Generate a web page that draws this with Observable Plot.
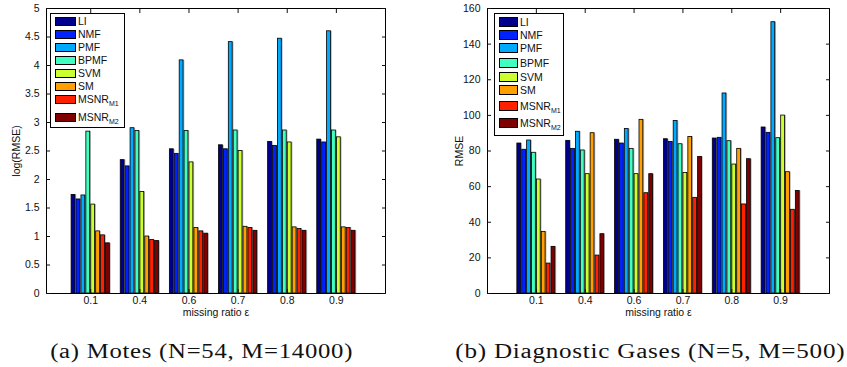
<!DOCTYPE html>
<html>
<head>
<meta charset="utf-8">
<script src="https://cdn.jsdelivr.net/npm/d3@7"></script>
<script src="https://cdn.jsdelivr.net/npm/@observablehq/plot@0.6"></script>
<style>
  html, body { margin: 0; padding: 0; background: #fff; }
  #wrap { position: relative; width: 847px; height: 367px; font-family: "Liberation Sans", Arial, sans-serif; overflow: hidden; }
  .panel { position: absolute; top: 0; }
  .legend { position: absolute; border: 1px solid #000; background: #fff; box-sizing: border-box; font-size: 10.5px; color: #111; }
  .legend .sw { position: absolute; border: 1px solid #000; box-sizing: border-box; }
  .legend .lb { position: absolute; white-space: nowrap; line-height: 12px; }
  .legend sub { font-size: 7px; vertical-align: -3px; }
  .cap { position: absolute; top: 339px; font-family: "Liberation Serif", "DejaVu Serif", serif; font-size: 20px; line-height: 24px; letter-spacing: 0.6px; color: #111; white-space: nowrap; transform-origin: center center; }
</style>
</head>
<body>
<div id="wrap"></div>
<script>
// ---- data ----
const categories = ["0.1", "0.4", "0.6", "0.7", "0.8", "0.9"];
const methods = ["LI", "NMF", "PMF", "BPMF", "SVM", "SM", "MSNR_M1", "MSNR_M2"];
const methodColors = ["#00008f", "#0022ff", "#00aaff", "#40ffc0", "#ccff30", "#ffa000", "#ff2000", "#800000"];

// (a) Motes: log(RMSE), one row per missing ratio, columns in method order
const motesLogRMSE = [
  [1.73, 1.65, 1.72, 2.84, 1.56, 1.09, 1.02, 0.88],
  [2.34, 2.23, 2.90, 2.85, 1.78, 1.00, 0.94, 0.92],
  [2.53, 2.45, 4.09, 2.85, 2.30, 1.15, 1.09, 1.05],
  [2.60, 2.53, 4.41, 2.86, 2.50, 1.17, 1.15, 1.10],
  [2.66, 2.59, 4.47, 2.86, 2.65, 1.16, 1.13, 1.10],
  [2.70, 2.65, 4.60, 2.86, 2.74, 1.16, 1.15, 1.10]
];
// (b) Diagnostic Gases: RMSE
const gasesRMSE = [
  [84.2, 80.7, 85.9, 79.0, 64.0, 34.6, 16.8, 26.2],
  [85.7, 81.2, 90.8, 80.3, 67.0, 90.0, 21.3, 33.3],
  [86.3, 84.2, 92.3, 81.2, 67.0, 97.5, 56.3, 67.0],
  [86.6, 85.1, 96.9, 83.8, 67.7, 87.9, 53.7, 76.7],
  [87.0, 87.4, 112.3, 85.5, 72.4, 81.2, 50.0, 75.4],
  [93.2, 90.2, 152.3, 87.2, 99.9, 68.1, 47.0, 57.6]
];
const motesYTicks = [0, 0.5, 1, 1.5, 2, 2.5, 3, 3.5, 4, 4.5, 5];
const gasesYTicks = [0, 20, 40, 60, 80, 100, 120, 140, 160];
const captions = ["(a) Motes (N=54, M=14000)", "(b) Diagnostic Gases (N=5, M=500)"];

const panels = [
  {values: motesLogRMSE, yLabel: "log(RMSE)", yDomain: [0, 5], yTicks: motesYTicks, xDomain: [0.1, 7],
   left: 0, width: 423, ml: 46, mr: 38, labelOffset: 34,
   caption: captions[0], capX: 201.5, capW: 303,
   legend: {x: 50, y: 13, w: 75, h: 115, swx: 4, sww: 21, swh: 9, tx: 27, rows: [21.3, 34, 47, 60.3, 73.3, 86, 99.3, 117.3]}},
  {values: gasesRMSE, yLabel: "RMSE", yDomain: [0, 160], yTicks: gasesYTicks, xDomain: [0, 7],
   left: 423, width: 424, ml: 64, mr: 18, labelOffset: 32,
   caption: captions[1], capX: 650, capW: 390,
   legend: {x: 494, y: 13, w: 70, h: 123, swx: 4, sww: 19, swh: 10, tx: 25, rows: [21.7, 34.7, 48.3, 62.7, 77, 90.3, 106, 123.3]}}
];

const wrap = document.getElementById("wrap");
const H = 325, MT = 8, MB = 32;
const slot = 0.1, barW = 0.078;

panels.forEach(p => {
  const rows = [];
  p.values.forEach((vals, gi) => {
    vals.forEach((v, si) => {
      const c = gi + 1 + (si - 3.5) * slot;
      rows.push({cat: categories[gi], method: methods[si], value: v, x1: c - barW / 2, x2: c + barW / 2});
    });
  });
  const chart = Plot.plot({
    width: p.width, height: H,
    marginLeft: p.ml, marginRight: p.mr, marginTop: MT, marginBottom: MB,
    style: {fontFamily: "'Liberation Sans', Arial, sans-serif", fontSize: "10px", color: "#111", background: "#fff"},
    x: {domain: p.xDomain},
    y: {domain: p.yDomain},
    color: {domain: methods, range: methodColors},
    marks: [
      Plot.rectY(rows, {x1: "x1", x2: "x2", y: "value", fill: "#b0b0b0", dx: 1.3}),
      Plot.rectY(rows, {x1: "x1", x2: "x2", y: "value", fill: "method", stroke: "#000", strokeWidth: 0.8}),
      Plot.frame({stroke: "#000", strokeWidth: 1}),
      Plot.axisY({ticks: p.yTicks, tickFormat: d => String(d), tickSize: -4, tickPadding: 11, fontSize: 10.5,
        label: p.yLabel, labelAnchor: "center", labelArrow: "none", labelOffset: p.labelOffset}),
      Plot.axisY({anchor: "right", ticks: p.yTicks, tickSize: -4, tickFormat: () => "", label: null}),
      Plot.axisX({ticks: [1, 2, 3, 4, 5, 6], tickFormat: d => categories[d - 1], tickSize: -4, tickPadding: 7, fontSize: 10.5,
        label: "missing ratio ε", labelAnchor: "center", labelArrow: "none", labelOffset: 22}),
      Plot.axisX({anchor: "top", ticks: [1, 2, 3, 4, 5, 6], tickSize: -4, tickFormat: () => "", label: null})
    ]
  });
  chart.classList.add("panel");
  chart.style.left = p.left + "px";
  wrap.appendChild(chart);

  // legend
  const L = p.legend;
  const lg = document.createElement("div");
  lg.className = "legend";
  Object.assign(lg.style, {left: L.x + "px", top: L.y + "px", width: L.w + "px", height: L.h + "px"});
  methods.forEach((m, i) => {
    const cy = L.rows[i] - L.y;
    const sw = document.createElement("div");
    sw.className = "sw";
    Object.assign(sw.style, {left: L.swx + "px", top: (cy - L.swh / 2 - 1) + "px", width: L.sww + "px", height: L.swh + "px", background: methodColors[i]});
    lg.appendChild(sw);
    const lb = document.createElement("div");
    lb.className = "lb";
    const parts = m.split("_");
    lb.innerHTML = parts.length > 1 ? parts[0] + "<sub>" + parts[1] + "</sub>" : m;
    Object.assign(lb.style, {left: L.tx + "px", top: (cy - 7) + "px"});
    lg.appendChild(lb);
  });
  wrap.appendChild(lg);

  const cap = document.createElement("div");
  cap.className = "cap";
  cap.textContent = p.caption;
  wrap.appendChild(cap);
  const w = cap.getBoundingClientRect().width;
  cap.style.left = (p.capX - w / 2) + "px";
  cap.style.transform = "scaleX(" + (p.capW / w) + ")";
});
</script>
</body>
</html>
